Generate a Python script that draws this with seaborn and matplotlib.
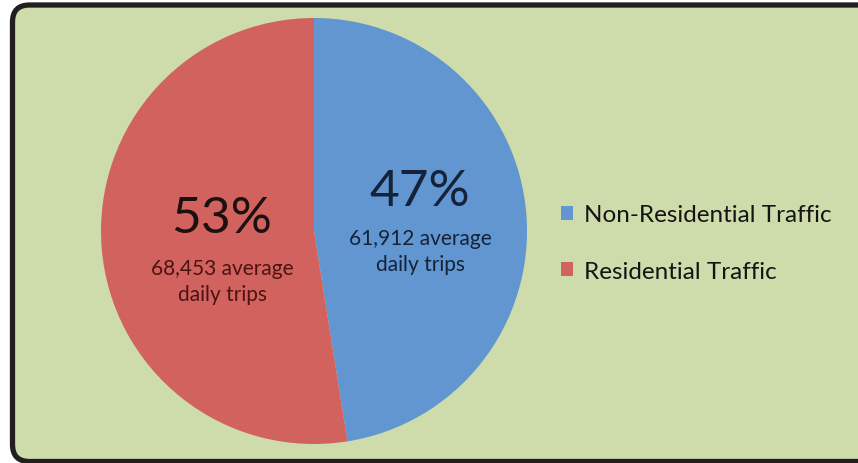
import matplotlib
matplotlib.use("Agg")
import matplotlib.pyplot as plt
from matplotlib.patches import FancyBboxPatch, Patch
import seaborn as sns

# Traffic split by origin
categories = ["Non-Residential Traffic", "Residential Traffic"]
daily_trips = [61912, 68453]
colors = ["#6196d0", "#d2625d"]
text_colors = ["#14233a", "#4a1414"]

sns.set_theme(style="white")
plt.rcParams["font.family"] = ["Lato", "DejaVu Sans"]

W, H = 858, 464
fig = plt.figure(figsize=(W / 100, H / 100), dpi=100, facecolor="white")

# Rounded green panel with a dark frame, drawn on a full-figure background axes
bg = fig.add_axes([0, 0, 1, 1], zorder=-5)
bg.set_xlim(0, W)
bg.set_ylim(0, H)
bg.axis("off")
panel = FancyBboxPatch((12.5, 1.5), W + 40, 456.5,
                       boxstyle="round,pad=0,rounding_size=17",
                       facecolor="#cddcaa", edgecolor="#231f20", linewidth=3.8)
bg.add_patch(panel)

cx, cy, r = 314, 232, 213
ax = fig.add_axes([(cx - r) / W, (H - cy - r) / H, 2 * r / W, 2 * r / H])
ax.set_facecolor("none")
wedges, _ = ax.pie(daily_trips, colors=colors, startangle=90, counterclock=False,
                   radius=1.0, wedgeprops=dict(linewidth=0))
ax.set_xlim(-1, 1)
ax.set_ylim(-1, 1)
ax.set_aspect("equal")
ax.axis("off")

total = sum(daily_trips)
shares = [round(100 * v / total) for v in daily_trips]

def to_ax(px, py):
    return ((px - cx) / r, (cy - py) / r)

# Blue slice labels
x, y = to_ax(420, 192)
ax.text(x, y, f"{shares[0]}%", ha="center", va="center", fontsize=37, color=text_colors[0])
x, y = to_ax(420, 239)
ax.text(x, y, f"{daily_trips[0]:,} average", ha="center", va="center", fontsize=15, color=text_colors[0])
x, y = to_ax(420, 265)
ax.text(x, y, "daily trips", ha="center", va="center", fontsize=15, color=text_colors[0])

# Red slice labels
x, y = to_ax(222, 219)
ax.text(x, y, f"{shares[1]}%", ha="center", va="center", fontsize=37, color="#1c1010")
x, y = to_ax(222, 269)
ax.text(x, y, f"{daily_trips[1]:,} average", ha="center", va="center", fontsize=15, color=text_colors[1])
x, y = to_ax(222, 295)
ax.text(x, y, "daily trips", ha="center", va="center", fontsize=15, color=text_colors[1])

handles = [Patch(facecolor=c, edgecolor="none") for c in colors]
fig.legend(handles, categories, loc="center left",
           bbox_to_anchor=(539 / W, (H - 244) / H), frameon=False,
           fontsize=17.5, labelspacing=1.45, handlelength=0.5, handleheight=0.5,
           handletextpad=0.45, labelcolor="#141414")

fig.savefig("out.png", dpi=100, facecolor="white")
